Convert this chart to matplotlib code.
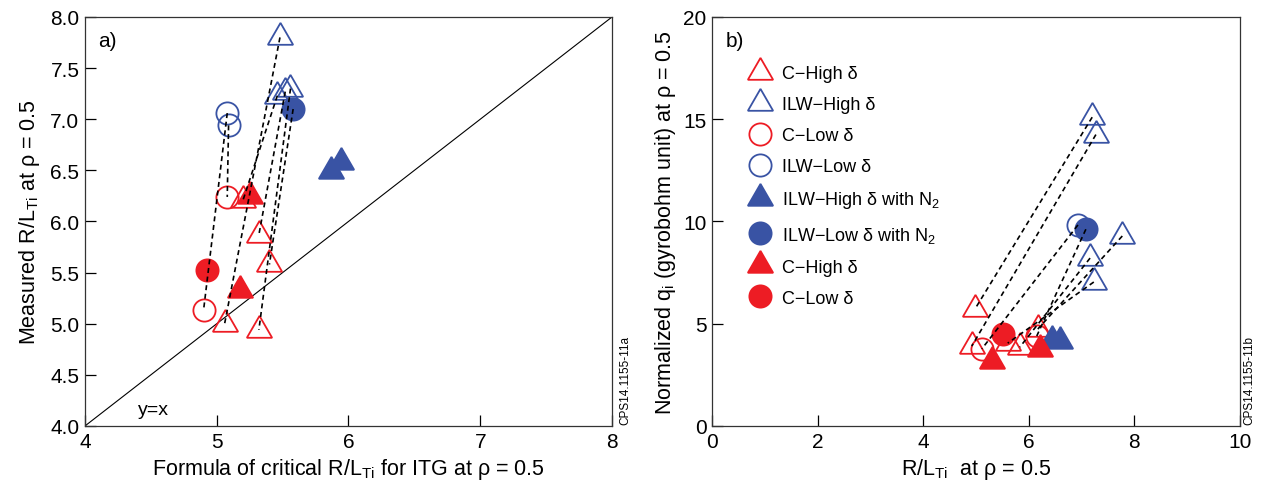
#!/usr/bin/env python3

import matplotlib
matplotlib.use("Agg")
import matplotlib.pyplot as plt

RED = "#ED1C24"
BLUE = "#3953A4"

# ---- panel a: measured vs. critical-gradient formula ----
a_c_high_x = [5.06, 5.20, 5.32, 5.40, 5.32]
a_c_high_y = [5.00, 6.21, 5.87, 5.58, 4.94]
a_ilw_high_x = [5.48, 5.46, 5.52, 5.56]
a_ilw_high_y = [7.80, 7.23, 7.27, 7.30]
a_c_low_x = [4.90, 5.08]
a_ilw_low_x = [5.08, 5.09]
a_c_low_y = [5.13, 6.24]
a_ilw_low_y = [7.06, 6.94]
a_ilw_high_n2_x = [5.94, 5.87]
a_ilw_high_n2_y = [6.58, 6.49]
a_ilw_low_n2_x = [5.58]
a_ilw_low_n2_y = [7.10]
a_c_high_n2_x = [5.25, 5.18]
a_c_high_n2_y = [6.25, 5.33]
a_c_low_n2_x = [4.93]
a_c_low_n2_y = [5.53]

# matched ILW / C pairs: (ILW series, index, C series, index)
a_pairs = [("ilw_high", 0, "c_high", 0),
           ("ilw_high", 1, "c_high", 1),
           ("ilw_high", 2, "c_high", 2),
           ("ilw_high", 3, "c_high", 4),
           ("ilw_low_n2", 0, "c_high", 3),
           ("ilw_low", 0, "c_low", 0),
           ("ilw_low", 1, "c_low", 1)]

# ---- panel b: normalized heat flux vs. R/LTi ----
b_c_high_x = [4.98, 4.92, 5.83, 6.17, 5.60]
b_c_high_y = [5.72, 3.91, 3.86, 4.74, 4.05]
b_ilw_high_x = [7.20, 7.27, 7.77, 7.16, 7.23]
b_ilw_high_y = [15.10, 14.25, 9.29, 8.21, 7.04]
b_c_low_x = [5.11, 6.15]
b_c_low_y = [3.77, 4.40]
b_ilw_low_x = [6.93]
b_ilw_low_y = [9.83]
b_ilw_high_n2_x = [6.44, 6.59]
b_ilw_high_n2_y = [4.20, 4.15]
b_ilw_low_n2_x = [7.08]
b_ilw_low_n2_y = [9.62]
b_c_high_n2_x = [5.30, 6.21]
b_c_high_n2_y = [3.18, 3.77]
b_c_low_n2_x = [5.51]
b_c_low_n2_y = [4.50]

b_pairs = [("ilw_high", 0, "c_high", 0),
           ("ilw_high", 1, "c_high", 1),
           ("ilw_low", 0, "c_low", 0),
           ("ilw_low_n2", 0, "c_low", 1),
           ("ilw_high", 2, "c_high", 3),
           ("ilw_high", 3, "c_high", 2),
           ("ilw_high", 4, "c_high", 4)]

LABELS = ["C\u2212High \u03b4", "ILW\u2212High \u03b4", "C\u2212Low \u03b4",
          "ILW\u2212Low \u03b4", "ILW\u2212High \u03b4 with N$_2$",
          "ILW\u2212Low \u03b4 with N$_2$", "C\u2212High \u03b4", "C\u2212Low \u03b4"]

TRI = (3, 0, 0)
TRI_MS = 21
CIRC_MS = 16

plt.rcParams["font.family"] = ["Liberation Sans", "DejaVu Sans"]
plt.rcParams["mathtext.default"] = "regular"
plt.rcParams["font.size"] = 15


def draw_set(ax, d, pairs):
    styles = [("c_high", TRI, TRI_MS, RED, False),
              ("ilw_high", TRI, TRI_MS, BLUE, False),
              ("c_low", "o", CIRC_MS, RED, False),
              ("ilw_low", "o", CIRC_MS, BLUE, False),
              ("ilw_high_n2", TRI, TRI_MS, BLUE, True),
              ("ilw_low_n2", "o", CIRC_MS, BLUE, True),
              ("c_high_n2", TRI, TRI_MS, RED, True),
              ("c_low_n2", "o", CIRC_MS, RED, True)]
    for (key, mk, ms, col, filled), lab in zip(styles, LABELS):
        xs, ys = d[key]
        ax.plot(xs, ys, linestyle="none", marker=mk, markersize=ms,
                markerfacecolor=col if filled else "none",
                markeredgecolor=col, markeredgewidth=1.3,
                label=lab, zorder=3)
    for k1, i1, k2, i2 in pairs:
        ax.plot([d[k1][0][i1], d[k2][0][i2]], [d[k1][1][i1], d[k2][1][i2]],
                color="black", linestyle=(0, (3, 2.2)), linewidth=1.2, zorder=4)


def style_axis(ax):
    ax.tick_params(direction="in", length=8, width=0.9, top=False,
                   right=False, labelsize=15, pad=4)
    for s in ax.spines.values():
        s.set_linewidth(0.9)
        s.set_color("#333333")


fig = plt.figure(figsize=(12.66, 4.89), dpi=100)
ax_a = fig.add_axes([0.0671, 0.1268, 0.4163, 0.8364])
ax_b = fig.add_axes([0.5624, 0.1268, 0.4171, 0.8364])

da = {"c_high": (a_c_high_x, a_c_high_y), "ilw_high": (a_ilw_high_x, a_ilw_high_y),
      "c_low": (a_c_low_x, a_c_low_y), "ilw_low": (a_ilw_low_x, a_ilw_low_y),
      "ilw_high_n2": (a_ilw_high_n2_x, a_ilw_high_n2_y),
      "ilw_low_n2": (a_ilw_low_n2_x, a_ilw_low_n2_y),
      "c_high_n2": (a_c_high_n2_x, a_c_high_n2_y),
      "c_low_n2": (a_c_low_n2_x, a_c_low_n2_y)}
db = {"c_high": (b_c_high_x, b_c_high_y), "ilw_high": (b_ilw_high_x, b_ilw_high_y),
      "c_low": (b_c_low_x, b_c_low_y), "ilw_low": (b_ilw_low_x, b_ilw_low_y),
      "ilw_high_n2": (b_ilw_high_n2_x, b_ilw_high_n2_y),
      "ilw_low_n2": (b_ilw_low_n2_x, b_ilw_low_n2_y),
      "c_high_n2": (b_c_high_n2_x, b_c_high_n2_y),
      "c_low_n2": (b_c_low_n2_x, b_c_low_n2_y)}

# panel a
ax_a.plot([4, 8], [4, 8], color="black", linewidth=0.8, zorder=2)
draw_set(ax_a, da, a_pairs)
ax_a.set_xlim(4, 8)
ax_a.set_ylim(4, 8)
ax_a.set_xticks([4, 5, 6, 7, 8])
ax_a.set_yticks([4.0, 4.5, 5.0, 5.5, 6.0, 6.5, 7.0, 7.5, 8.0])
ax_a.set_yticklabels(["4.0", "4.5", "5.0", "5.5", "6.0", "6.5", "7.0", "7.5", "8.0"])
style_axis(ax_a)
ax_a.set_xlabel("Formula of critical R/L$_{Ti}$ for ITG at \u03c1 = 0.5", fontsize=15.5)
ax_a.set_ylabel("Measured R/L$_{Ti}$ at \u03c1 = 0.5", fontsize=15.5, labelpad=6)
ax_a.text(0.025, 0.965, "a)", transform=ax_a.transAxes, fontsize=15,
          ha="left", va="top")
ax_a.text(4.4, 4.12, "y=x", fontsize=14)

# panel b
draw_set(ax_b, db, b_pairs)
ax_b.set_xlim(0, 10)
ax_b.set_ylim(0, 20)
ax_b.set_xticks([0, 2, 4, 6, 8, 10])
ax_b.set_yticks([0, 5, 10, 15, 20])
style_axis(ax_b)
ax_b.set_xlabel("R/L$_{Ti}$  at \u03c1 = 0.5", fontsize=15.5)
ax_b.set_ylabel("Normalized q$_i$ (gyrobohm unit) at \u03c1 = 0.5", fontsize=15.5)
ax_b.text(0.025, 0.965, "b)", transform=ax_b.transAxes, fontsize=15,
          ha="left", va="top")
ax_b.legend(loc="upper left", bbox_to_anchor=(0.055, 0.9), frameon=False,
            fontsize=13, handlelength=1.3, handletextpad=0.55,
            labelspacing=0.78, markerscale=1.0, borderaxespad=0)

fig.text(0.4895, 0.13, "CPS14.1155-11a", rotation=90, fontsize=8.5,
         ha="left", va="bottom")
fig.text(0.9825, 0.13, "CPS14.1155-11b", rotation=90, fontsize=8.5,
         ha="left", va="bottom")

fig.savefig("out.png", dpi=100)
